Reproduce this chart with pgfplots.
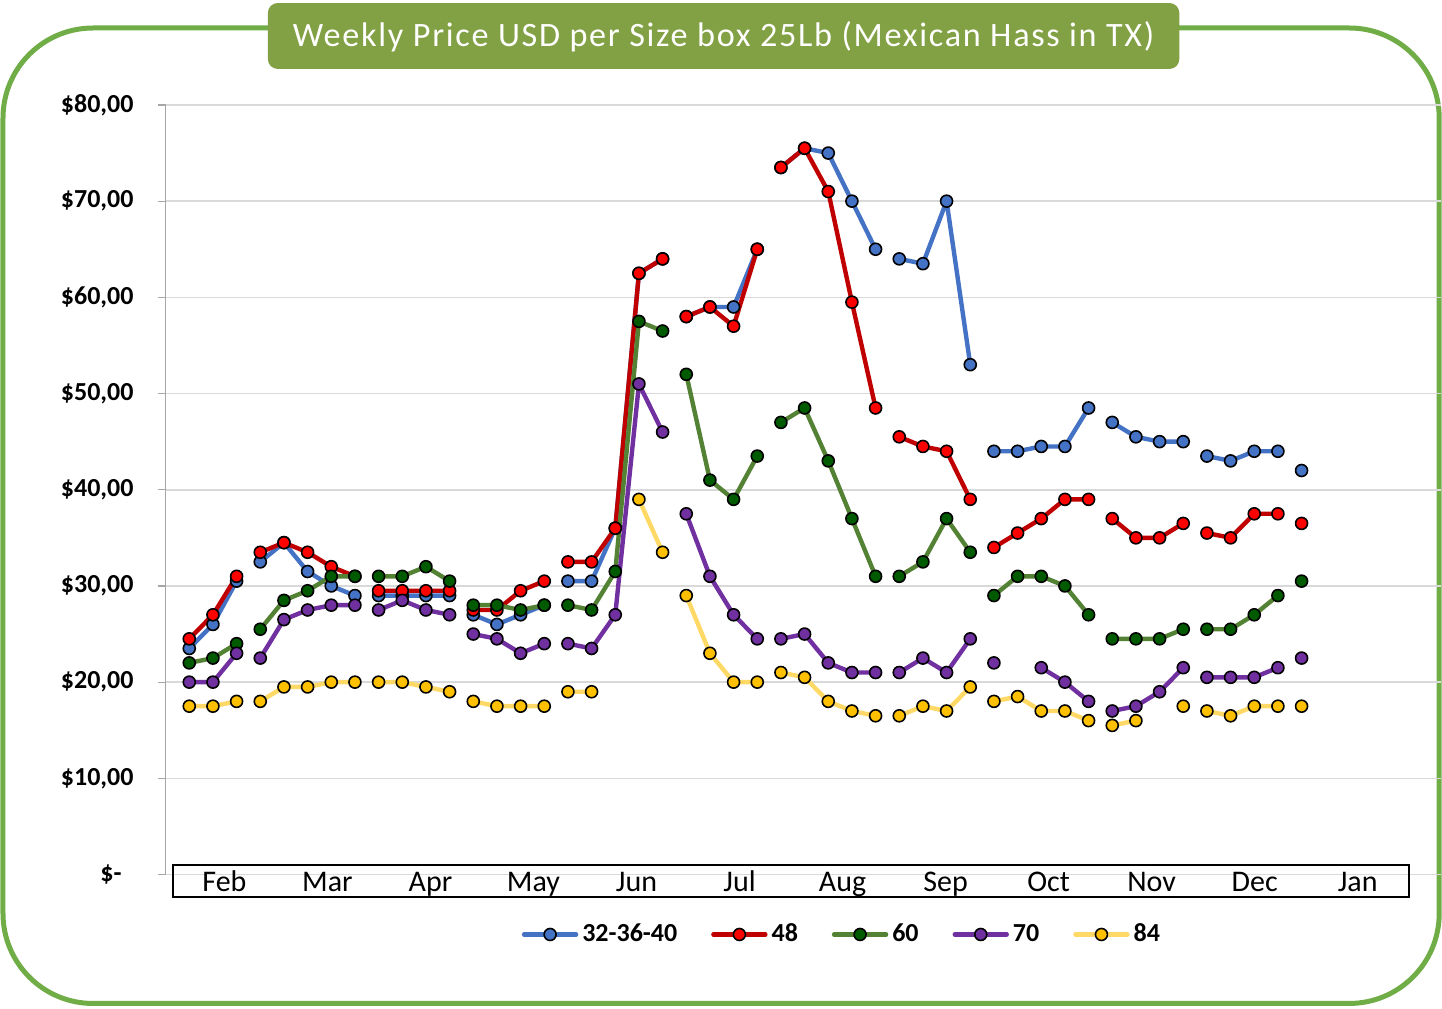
\documentclass[border=0pt]{standalone}
\usepackage{pgfplots}
\pgfplotsset{compat=1.18}
\usepackage{pgfplotstable}
\usepackage{graphicx}
\usepackage{fontspec}
\setmainfont{Carlito}

\definecolor{framegreen}{HTML}{70AD47}
\definecolor{titlegreen}{HTML}{82A044}
\definecolor{gridgrey}{HTML}{D9D9D9}
\definecolor{axisgrey}{HTML}{A6A6A6}
\definecolor{bline}{HTML}{4472C4}
\definecolor{bfill}{HTML}{4472C4}
\definecolor{rline}{HTML}{C00000}
\definecolor{rfill}{HTML}{FF0000}
\definecolor{gline}{HTML}{548235}
\definecolor{gfill}{HTML}{005A00}
\definecolor{pline}{HTML}{7030A0}
\definecolor{pfill}{HTML}{7030A0}
\definecolor{yline}{HTML}{FFD966}
\definecolor{yfill}{HTML}{FFC000}

% week index, one row per week; nan rows split the months
\pgfplotstableread{
x    s32   s48   s60   s70   s84
0    23.5  24.5  22    20    17.5
1    26    27    22.5  20    17.5
2    30.5  31    24    23    18
2.5  nan   nan   nan   nan   nan
3    32.5  33.5  25.5  22.5  18
4    34.5  34.5  28.5  26.5  19.5
5    31.5  33.5  29.5  27.5  19.5
6    30    32    31    28    20
7    29    31    31    28    20
7.5  nan   nan   nan   nan   nan
8    29    29.5  31    27.5  20
9    29    29.5  31    28.5  20
10   29    29.5  32    27.5  19.5
11   29    29.5  30.5  27    19
11.5 nan   nan   nan   nan   nan
12   27    27.5  28    25    18
13   26    27.5  28    24.5  17.5
14   27    29.5  27.5  23    17.5
15   28    30.5  28    24    17.5
15.5 nan   nan   nan   nan   nan
16   30.5  32.5  28    24    19
17   30.5  32.5  27.5  23.5  19
18   36    36    31.5  27    nan
19   62.5  62.5  57.5  51    39
20   64    64    56.5  46    33.5
20.5 nan   nan   nan   nan   nan
21   58    58    52    37.5  29
22   59    59    41    31    23
23   59    57    39    27    20
24   65    65    43.5  24.5  20
24.5 nan   nan   nan   nan   nan
25   73.5  73.5  47    24.5  21
26   75.5  75.5  48.5  25    20.5
27   75    71    43    22    18
28   70    59.5  37    21    17
29   65    48.5  31    21    16.5
29.5 nan   nan   nan   nan   nan
30   64    45.5  31    21    16.5
31   63.5  44.5  32.5  22.5  17.5
32   70    44    37    21    17
33   53    39    33.5  24.5  19.5
33.5 nan   nan   nan   nan   nan
34   44    34    29    22    18
35   44    35.5  31    nan   18.5
36   44.5  37    31    21.5  17
37   44.5  39    30    20    17
38   48.5  39    27    18    16
38.5 nan   nan   nan   nan   nan
39   47    37    24.5  17    15.5
40   45.5  35    24.5  17.5  16
41   45    35    24.5  19    nan
42   45    36.5  25.5  21.5  17.5
42.5 nan   nan   nan   nan   nan
43   43.5  35.5  25.5  20.5  17
44   43    35    25.5  20.5  16.5
45   44    37.5  27    20.5  17.5
46   44    37.5  29    21.5  17.5
46.5 nan   nan   nan   nan   nan
47   42    36.5  30.5  22.5  17.5
}\pricedata

\begin{document}
\begin{tikzpicture}
\begin{scope}[x=0.5pt,y=-0.5pt]
  \path[use as bounding box, fill=white] (0,0) rectangle (1442,1009);
  \draw[framegreen, line width=2.5pt, rounded corners=45pt] (3,28) rectangle (1440,1004);
  \fill[titlegreen, rounded corners=5pt] (268,3) rectangle (1180,69);
  \node[text=white, inner sep=0pt] at (724,37)
    {\resizebox{431pt}{!}{\addfontfeatures{LetterSpace=5}Weekly Price USD per Size box 25Lb (Mexican Hass in TX)}};
\end{scope}

\begin{axis}[
  at={(82.85pt,-437.5pt)}, anchor=south west,
  scale only axis, width=638.15pt, height=385pt,
  xmin=-1, xmax=52.9, ymin=0, ymax=80,
  axis x line=none, axis y line*=left,
  xtick=\empty,
  ytick={0,10,...,80},
  yticklabels={{\$-\kern6pt},{\$10,00},{\$20,00},{\$30,00},{\$40,00},{\$50,00},{\$60,00},{\$70,00},{\$80,00}},
  yticklabel style={font=\bfseries\fontsize{13pt}{15pt}\selectfont, anchor=east, inner sep=0pt, xshift=-11.85pt},
  ymajorgrids, grid style={gridgrey, line width=0.8pt},
  axis line style={axisgrey, line width=0.6pt},
  tick style={axisgrey, line width=0.6pt},
  tick align=outside, major tick length=4pt,
  unbounded coords=jump,
  every axis plot/.append style={line width=2.2pt, line cap=round, line join=round,
    mark=*, mark size=3pt},
  legend columns=5,
  legend style={at={(0.531,-0.0779)}, anchor=center, draw=none, fill=none,
    font=\bfseries\fontsize{13pt}{15pt}\selectfont,
    /tikz/every even column/.append style={column sep=15pt}},
  legend image code/.code={\draw[mark repeat=2, mark phase=2] plot coordinates {(0pt,0pt) (13pt,0pt) (26pt,0pt)};},
]
\addplot[bline, mark options={fill=bfill, draw=black, line width=0.8pt}] table[x=x, y=s32] {\pricedata};
\addlegendentry{32-36-40}
\addplot[rline, mark options={fill=rfill, draw=black, line width=0.8pt}] table[x=x, y=s48] {\pricedata};
\addlegendentry{48}
\addplot[gline, mark options={fill=gfill, draw=black, line width=0.8pt}] table[x=x, y=s60] {\pricedata};
\addlegendentry{60}
\addplot[pline, mark options={fill=pfill, draw=black, line width=0.8pt}] table[x=x, y=s70] {\pricedata};
\addlegendentry{70}
\addplot[yline, mark options={fill=yfill, draw=black, line width=0.8pt}] table[x=x, y=s84] {\pricedata};
\addlegendentry{84}
\end{axis}

% month band under the plot
\begin{axis}[
  at={(86.5pt,-448.5pt)}, anchor=south west,
  scale only axis, width=618.5pt, height=16pt,
  xmin=0, xmax=12, ymin=0, ymax=1,
  xtick={0.5,1.5,...,11.5},
  xticklabels={Feb,Mar,Apr,May,Jun,Jul,Aug,Sep,Oct,Nov,Dec,Jan},
  ytick=\empty, major tick length=0pt,
  axis line style={black, line width=1pt},
  xticklabel style={anchor=base, yshift=2.5pt, inner sep=0pt, font=\fontsize{15pt}{18pt}\selectfont},
]
\end{axis}
\end{tikzpicture}
\end{document}
